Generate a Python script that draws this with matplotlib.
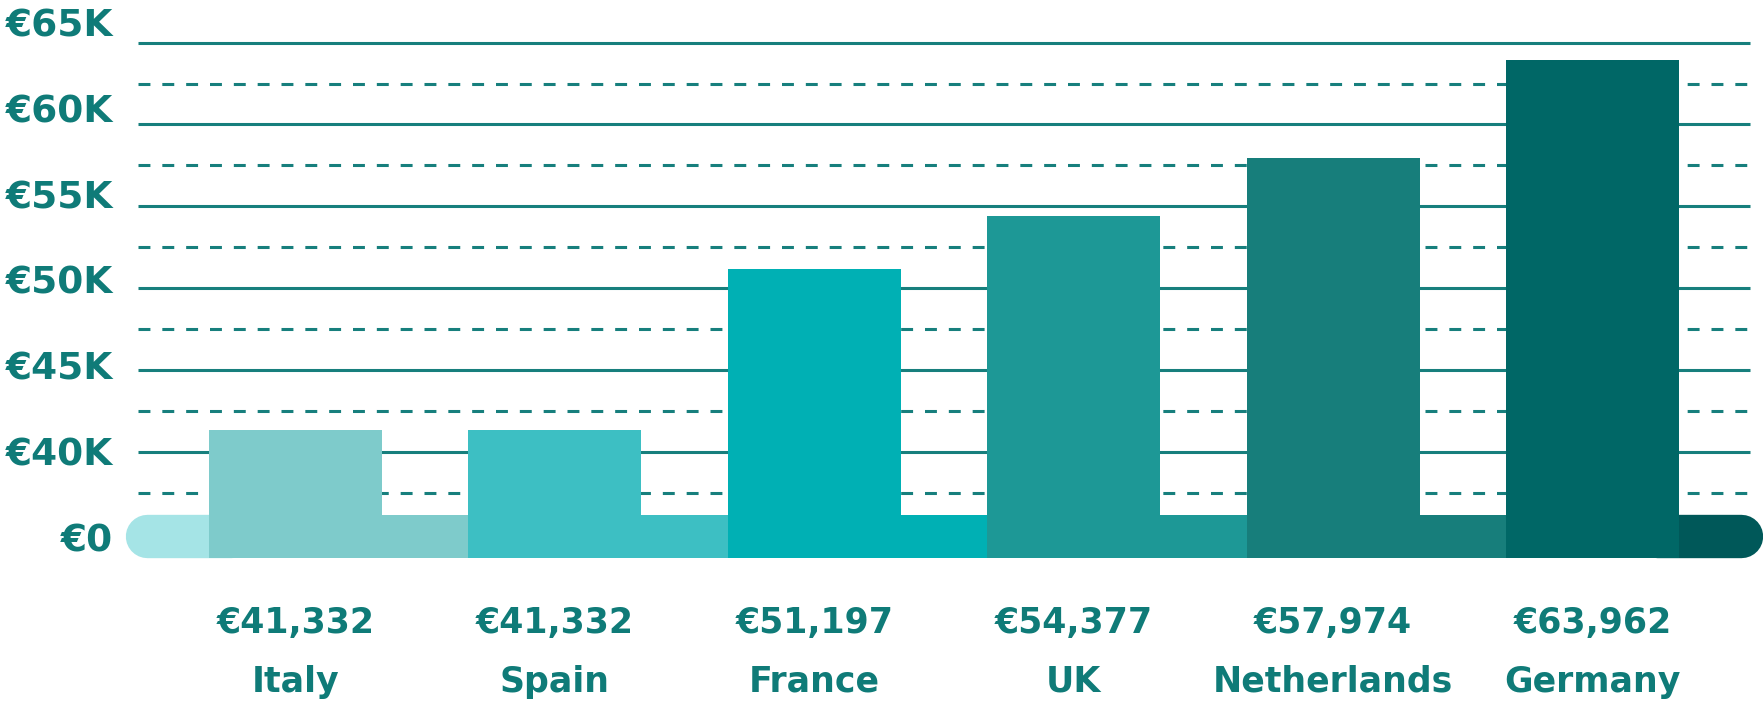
import numpy as np
import matplotlib.pyplot as plt

# salary by country (values as labelled)
countries = ['Italy', 'Spain', 'France', 'UK', 'Netherlands', 'Germany']
salaries = [41332, 41332, 51197, 54377, 57974, 63962]
bar_colors = ['#7ecbcb', '#3dbfc3', '#00b0b4', '#1d9896', '#177e7b', '#006766']
cap_colors = ['#a5e4e6', '#005859']
ytick_labels = ['€0', '€40K', '€45K', '€50K', '€55K', '€60K', '€65K']
grid_solid = [40000, 45000, 50000, 55000, 60000, 65000]
grid_dashed = [37500, 42500, 47500, 52500, 57500, 62500]

TEAL = '#0f7b78'
GRID = '#177f7d'
W, H, DPI = 1763, 704, 100
YLIM = (24578, 67610)
BAND_LO, BAND_HI = 33500, 36150   # the broken "€0" strip under the bars
BAR_W = 0.667
CAP = 0.324
GRID_PAD = 0.275

plt.rcParams['font.family'] = 'DejaVu Sans'
plt.rcParams['font.weight'] = 'bold'

fig = plt.figure(figsize=(W / DPI, H / DPI), dpi=DPI)
ax = fig.add_axes([125 / W, 0, 1 - 125 / W, 1])
ax.set_facecolor('none')

n = len(countries)
x = np.arange(n)
lefts = x - BAR_W / 2
x0 = lefts[0] - CAP
x1 = lefts[-1] + BAR_W + CAP
ax.set_xlim(x0, x1)
ax.set_ylim(*YLIM)

# gridlines
g0, g1 = lefts[0] - GRID_PAD, lefts[-1] + BAR_W + GRID_PAD
ax.hlines(grid_solid, g0, g1, color=GRID, lw=2.2, zorder=1)
ax.hlines(grid_dashed, g0, g1, color=GRID, lw=2.2, linestyles=(0, (3.9, 3.9)), zorder=1)

# band segments: each bar's colour runs on to the next bar
seg_ends = list(lefts[1:]) + [lefts[-1] + BAR_W]
ax.bar(lefts, BAND_HI - BAND_LO, width=np.array(seg_ends) - lefts, bottom=BAND_LO,
       align='edge', color=bar_colors, lw=0, zorder=2)

# rounded caps
px_x = W * (1 - 125 / W) / (x1 - x0)
px_y = H / (YLIM[1] - YLIM[0])
band_px = (BAND_HI - BAND_LO) * px_y
r = band_px / 2 / px_x
mid = (BAND_LO + BAND_HI) / 2
lw_pt = band_px * 72 / DPI
ax.plot([x0 + r, lefts[0] + r], [mid, mid], color=cap_colors[0], lw=lw_pt,
        solid_capstyle='round', zorder=1.5)
ax.plot([seg_ends[-1] - r, x1 - r], [mid, mid], color=cap_colors[1], lw=lw_pt,
        solid_capstyle='round', zorder=1.5)

# bars
ax.bar(x, np.array(salaries) - BAND_LO, width=BAR_W, bottom=BAND_LO,
       color=bar_colors, lw=0, zorder=3)

# labels under the bars
tr = ax.get_xaxis_transform()
for xi, val, name in zip(x, salaries, countries):
    ax.text(xi, 0.1004, f'€{val:,}', transform=tr, ha='center', va='baseline',
            fontsize=25, color=TEAL, fontweight='bold')
    ax.text(xi, 0.0175, name, transform=tr, ha='center', va='baseline',
            fontsize=25, color=TEAL, fontweight='bold')

for s in ax.spines.values():
    s.set_visible(False)
ax.set_xticks([])
ax.set_yticks([])

# y labels on an evenly spaced helper scale
lab = ax.twinx()
lab.yaxis.tick_left()
lab.set_ylim(-1.949, 6.268)
lab.set_yticks(range(len(ytick_labels)))
lab.set_yticklabels(ytick_labels, fontsize=27, color=TEAL, fontweight='bold')
lab.tick_params(axis='y', length=0, pad=8.6)
for s in lab.spines.values():
    s.set_visible(False)

fig.savefig('out.png', dpi=DPI, facecolor='white')
